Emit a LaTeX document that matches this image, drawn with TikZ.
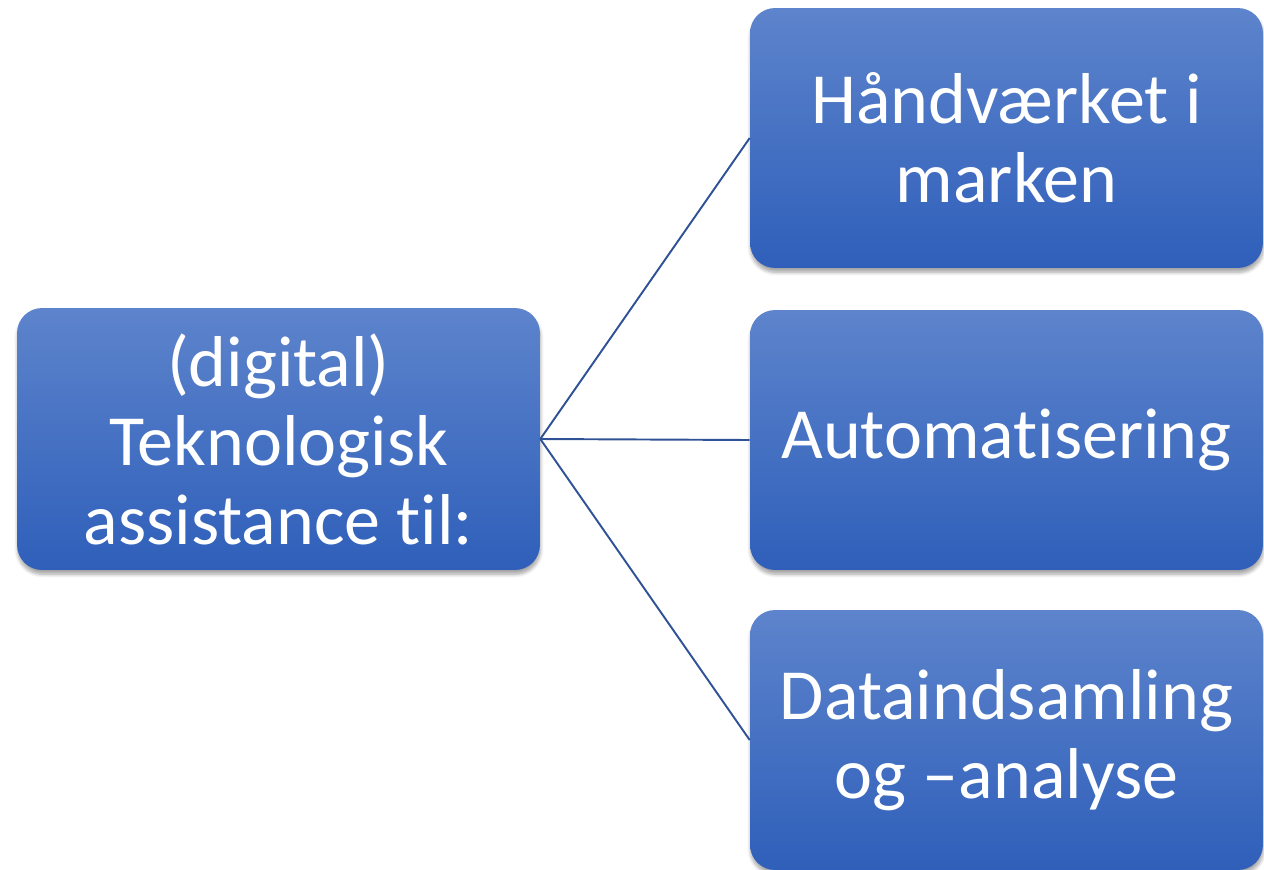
\documentclass[tikz,border=0pt]{standalone}
\usepackage{fontspec}
\setmainfont[Ligatures=CommonOff]{Carlito}
\usepackage{tikz}
\usetikzlibrary{shadows.blur}

\definecolor{boxtop}{RGB}{93,132,204}
\definecolor{boxbot}{RGB}{47,95,186}
\definecolor{linkblue}{RGB}{47,82,150}

\begin{document}
\begin{tikzpicture}[x=0.02cm,y=-0.02cm]
		\useasboundingbox (0,0) rectangle (1264,869);
		\begin{scope}[every node/.style={rectangle,rounded corners=0.5cm,
		              top color=boxtop,bottom color=boxbot,text=white,
		              align=center,inner sep=0pt,
		              font=\fontsize{41}{45}\selectfont,
		              blur shadow={shadow xshift=0.3pt,shadow yshift=-2.5pt,
		                           shadow blur steps=6,shadow opacity=35}}]
		    \node[minimum width=10.46cm,minimum height=5.24cm] (tek) at (278.5,439) {(digital)\\Teknologisk\\assistance til:};
		    \node[minimum width=10.26cm,minimum height=5.2cm] (hand) at (1006.5,138) {Håndværket i\\marken};
		    \node[minimum width=10.26cm,minimum height=5.2cm] (auto) at (1006.5,440) {Automatisering};
		    \node[minimum width=10.26cm,minimum height=5.2cm] (data) at (1006.5,740) {Dataindsamling\\og –analyse};
		\end{scope}
		
		\begin{scope}[every path/.style={draw=linkblue,line width=1.1pt}]
		    \path (tek.east) edge (hand.west);
		    \path (tek.east) edge (auto.west);
		    \path (tek.east) edge (data.west);
		\end{scope}
		\end{tikzpicture}
\end{document}
